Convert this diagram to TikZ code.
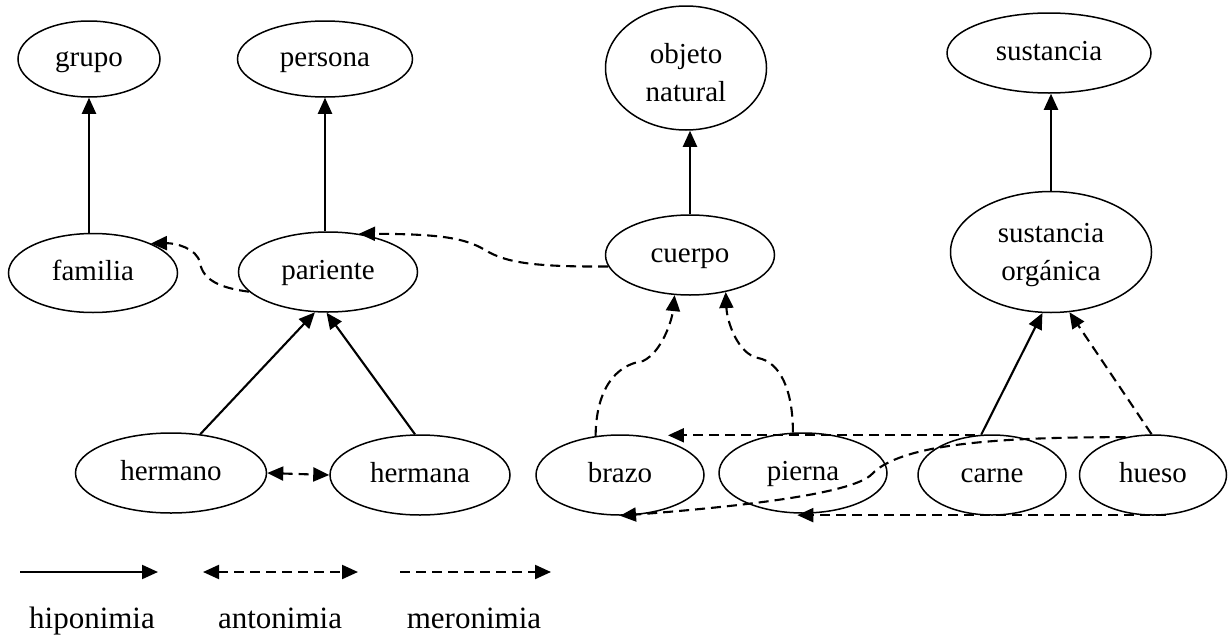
\documentclass[tikz,border=0pt]{standalone}
\usepackage{fontspec}
\setmainfont{Liberation Serif}
\usetikzlibrary{shapes.geometric,arrows.meta}
\begin{document}
\begin{tikzpicture}[x=1pt,y=-1pt,
  concept/.style={draw, ellipse, line width=1.5pt, inner sep=0pt, align=center, font=\fontsize{29}{38}\selectfont},
  oneline/.style={text height=20pt, text depth=6pt},
  hypo/.style={line width=2.1pt, -{Triangle[length=16pt,width=14pt]}},
  mero/.style={hypo, dash pattern=on 10pt off 6pt},
  anto/.style={line width=2.1pt, {Triangle[length=16pt,width=14pt]}-{Triangle[length=16pt,width=14pt]}, dash pattern=on 10pt off 6pt},
  legendtext/.style={font=\fontsize{31}{36}\selectfont, anchor=base, inner sep=0pt}
]
\useasboundingbox (0,0) rectangle (1229,635);

% nodes
\node[concept, oneline, minimum width=142pt, minimum height=76pt] (grupo) at (89,59) {grupo};
\node[concept, oneline, minimum width=175pt, minimum height=76pt] (persona) at (325,59) {persona};
\node[concept, minimum width=161pt, minimum height=124pt] (objeto) at (686,68) {\rule{0pt}{30pt}objeto\\natural};
\node[concept, oneline, minimum width=204pt, minimum height=80pt] (sustancia) at (1049,53) {sustancia};
\node[concept, oneline, minimum width=169pt, minimum height=79pt] (familia) at (93,273) {familia};
\node[concept, oneline, minimum width=179pt, minimum height=80pt] (pariente) at (328,272) {pariente};
\node[concept, oneline, minimum width=169pt, minimum height=80pt] (cuerpo) at (690,255) {cuerpo};
\node[concept, minimum width=201pt, minimum height=121pt] (sustorg) at (1051,252) {\rule{0pt}{25pt}sustancia\\orgánica};
\node[concept, oneline, minimum width=191pt, minimum height=80pt] (hermano) at (171,473) {hermano};
\node[concept, oneline, minimum width=180pt, minimum height=80pt] (hermana) at (420,475) {hermana};
\node[concept, oneline, minimum width=168pt, minimum height=80pt] (brazo) at (620,475) {brazo};
\node[concept, oneline, minimum width=168pt, minimum height=80pt] (pierna) at (803,473) {pierna};
\node[concept, oneline, minimum width=148pt, minimum height=80pt] (carne) at (992,475) {carne};
\node[concept, oneline, minimum width=147pt, minimum height=80pt] (hueso) at (1153,475) {hueso};

% hiponimia
\draw[hypo] (grupo.south |- familia.north) -- (grupo.south);
\draw[hypo] (persona.south |- pariente.north) -- (persona.south);
\draw[hypo] (cuerpo.north) -- (cuerpo.north |- objeto.south);
\draw[hypo] (sustorg.north) -- (sustorg.north |- sustancia.south);
\draw[hypo] (hermano.53) -- (pariente.252);
\draw[hypo] (hermana.97) -- (pariente.268);
\draw[hypo] (carne.105) -- (sustorg.262);

% antonimia
\draw[anto] (hermano.east) -- (hermana.west);

% meronimia
\draw[mero] (hueso.92) -- (sustorg.287);
\draw[mero] (pariente.194) .. controls (220,288) and (203,280) .. (200,263) .. controls (197,248) and (175,243) .. (familia.27);
\draw[mero] (cuerpo.188) .. controls (530,267) and (505,262) .. (485,250) .. controls (465,238) and (440,234) .. (pariente.51);
\draw[mero] (brazo.122) .. controls (596,390) and (615,365) .. (643,361) .. controls (662,352) and (672,320) .. (cuerpo.249);
\draw[mero] (pierna.104) .. controls (793,390) and (780,362) .. (758,358) .. controls (738,354) and (727,322) .. (cuerpo.314);
\draw[mero] (carne.113) -- (carne.113 -| brazo.35);
\draw[mero] (hueso.126) .. controls (990,437) and (900,445) .. (872,474) .. controls (855,492) and (760,505) .. (brazo.south);
\draw[mero] (hueso.288) -- (hueso.288 -| pierna.262);

% legend
\coordinate (h1) at (20,572);
\coordinate (h2) at (158,572);
\draw[hypo] (h1) -- (h2);
\coordinate (a1) at (203,572);
\coordinate (a2) at (358,572);
\draw[anto] (a1) -- (a2);
\coordinate (m1) at (400,572);
\coordinate (m2) at (551,572);
\draw[mero] (m1) -- (m2);
\node[legendtext] (lh) at (92,628) {hiponimia};
\node[legendtext] (la) at (280,628) {antonimia};
\node[legendtext] (lm) at (474,628) {meronimia};
\end{tikzpicture}
\end{document}
